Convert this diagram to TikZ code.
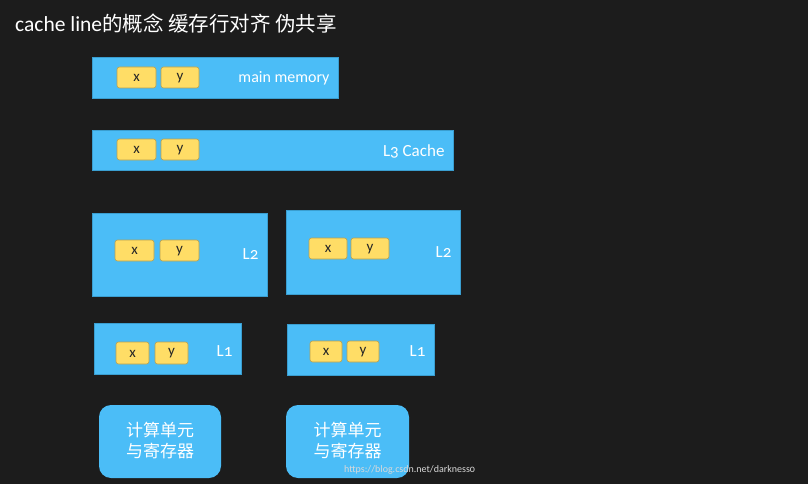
\documentclass[tikz,border=0pt]{standalone}
\usepackage{fontspec}
\setmainfont{Carlito}[Numbers=OldStyle]
\newfontfamily\cjk{Noto Sans CJK SC}
\definecolor{bg}{HTML}{1C1C1C}
\definecolor{cblue}{HTML}{4BBDF7}
\definecolor{cblueedge}{HTML}{3A9ED0}
\definecolor{cyel}{HTML}{FFDD66}
\definecolor{cyeledge}{HTML}{B8A050}
\begin{document}
\begin{tikzpicture}[x=1pt,y=-1pt,
  level/.style={draw=cblueedge,fill=cblue,line width=0.8pt},
  cell/.style={draw=cyeledge,fill=cyel,rounded corners=2.5pt,line width=0.6pt},
  celltext/.style={text=black!85,font=\fontsize{15}{15}\selectfont},
  lab/.style={text=white,anchor=east,font=\fontsize{17}{17}\selectfont},
  cpu/.style={fill=cblue,rounded corners=12pt},
  cputext/.style={text=white,align=center,font=\cjk\fontsize{17}{21}\selectfont}]
\fill[bg] (0,0) rectangle (808,484);
\useasboundingbox (0,0) rectangle (808,484);
% title
\node[anchor=west,text=white,inner sep=0pt] (title) at (15,24)
  {\fontsize{21.5}{21.5}\selectfont cache line{\cjk\fontsize{20.5}{20.5}\selectfont 的概念 缓存行对齐 伪共享}};
% main memory
\draw[level] (92,57) rectangle (338,98);
\node[lab,font=\fontsize{16}{16}\selectfont] (mm) at (333,78) {main memory};
\draw[cell] (117,67) rectangle (156,88); \node[celltext] (mmx) at (136.5,78) {x};
\draw[cell] (161,67) rectangle (199,88); \node[celltext] (mmy) at (180,78) {y};
% L3
\draw[level] (92,130) rectangle (453,170);
\node[lab] (l3) at (448,151) {L3 Cache};
\draw[cell] (117,139) rectangle (156,160); \node[celltext] (l3x) at (136.5,150) {x};
\draw[cell] (161,139) rectangle (199,160); \node[celltext] (l3y) at (180,150) {y};
% L2 left
\draw[level] (92,213) rectangle (267,296);
\node[lab] (l2a) at (262,254) {L2};
\draw[cell] (115,240) rectangle (154,261); \node[celltext] (l2ax) at (134.5,251) {x};
\draw[cell] (160,240) rectangle (199,261); \node[celltext] (l2ay) at (179.5,251) {y};
% L2 right
\draw[level] (286,210) rectangle (460,294);
\node[lab] (l2b) at (455,252) {L2};
\draw[cell] (309,238) rectangle (347,259); \node[celltext] (l2bx) at (328,249) {x};
\draw[cell] (351,238) rectangle (389,259); \node[celltext] (l2by) at (370,249) {y};
% L1 left
\draw[level] (94,323) rectangle (241,374);
\node[lab] (l1a) at (236,351) {L1};
\draw[cell] (116,342) rectangle (149,364); \node[celltext] (l1ax) at (132.5,353.5) {x};
\draw[cell] (155,342) rectangle (188,364); \node[celltext] (l1ay) at (171.5,353.5) {y};
% L1 right
\draw[level] (287,324) rectangle (434,375);
\node[lab] (l1b) at (429,351) {L1};
\draw[cell] (310,341) rectangle (342,362); \node[celltext] (l1bx) at (326,352) {x};
\draw[cell] (347,341) rectangle (379,362); \node[celltext] (l1by) at (363,352) {y};
% compute units
\fill[cpu] (99,405) rectangle (221,478);
\node[cputext] (cpua) at (160,440) {计算单元\\与寄存器};
\fill[cpu] (286,405) rectangle (409,478);
\node[cputext] (cpub) at (347.5,440) {计算单元\\与寄存器};
% watermark
\node[anchor=west,text=white!85!black,inner sep=0pt,font=\fontsize{10}{10}\selectfont] (wm) at (344,470) {https://blog.csdn.net/darkness0};
\end{tikzpicture}
\end{document}
